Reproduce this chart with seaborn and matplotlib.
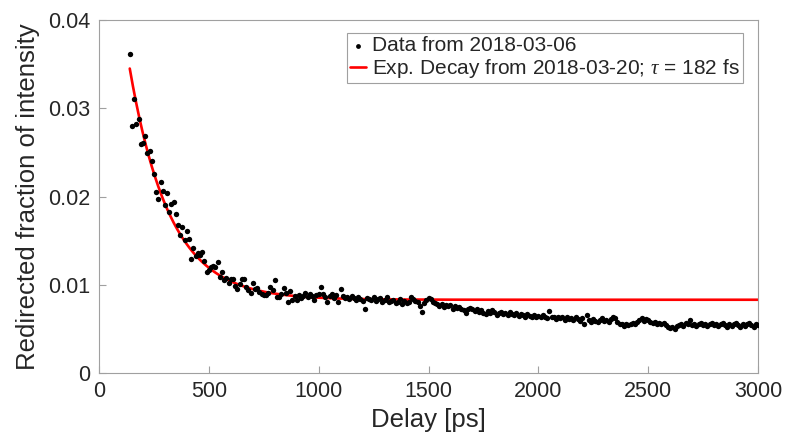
import numpy as np
import pandas as pd
import matplotlib
matplotlib.use("Agg")
import matplotlib.pyplot as plt
import seaborn as sns

# ---- data ----
delay_ps = np.arange(140, 3001, 10)
fraction = [
    0.0362, 0.0280, 0.0310, 0.0282, 0.0288, 0.0259, 0.0261, 0.0269, 0.0249, 0.0251,
    0.0240, 0.0225, 0.0205, 0.0197, 0.0216, 0.0206, 0.0190, 0.0204, 0.0182, 0.0192,
    0.0194, 0.0180, 0.0168, 0.0156, 0.0165, 0.0151, 0.0161, 0.0152, 0.0129, 0.0142,
    0.0133, 0.0136, 0.0134, 0.0137, 0.0127, 0.0115, 0.0117, 0.0120, 0.0121, 0.0120,
    0.0126, 0.0109, 0.0114, 0.0105, 0.0108, 0.0102, 0.0106, 0.0106, 0.0099, 0.0095,
    0.0101, 0.0107, 0.0106, 0.0097, 0.0094, 0.0091, 0.0102, 0.0095, 0.0096, 0.0092,
    0.0090, 0.0088, 0.0088, 0.0091, 0.0097, 0.0094, 0.0105, 0.0086, 0.0086, 0.0089,
    0.0096, 0.0091, 0.0080, 0.0093, 0.0083, 0.0087, 0.0083, 0.0088, 0.0085, 0.0087,
    0.0091, 0.0086, 0.0089, 0.0087, 0.0083, 0.0088, 0.0090, 0.0098, 0.0089, 0.0086,
    0.0081, 0.0087, 0.0089, 0.0085, 0.0088, 0.0080, 0.0095, 0.0087, 0.0085, 0.0086,
    0.0084, 0.0087, 0.0085, 0.0083, 0.0086, 0.0084, 0.0082, 0.0072, 0.0085, 0.0084,
    0.0083, 0.0086, 0.0082, 0.0084, 0.0085, 0.0081, 0.0083, 0.0086, 0.0080, 0.0082,
    0.0083, 0.0079, 0.0081, 0.0084, 0.0078, 0.0082, 0.0079, 0.0081, 0.0086, 0.0084,
    0.0082, 0.0080, 0.0076, 0.0069, 0.0079, 0.0083, 0.0085, 0.0084, 0.0081, 0.0079,
    0.0078, 0.0076, 0.0078, 0.0075, 0.0077, 0.0076, 0.0077, 0.0073, 0.0076, 0.0074,
    0.0075, 0.0073, 0.0071, 0.0068, 0.0073, 0.0074, 0.0072, 0.0070, 0.0072, 0.0069,
    0.0071, 0.0068, 0.0067, 0.0070, 0.0068, 0.0071, 0.0069, 0.0066, 0.0068, 0.0069,
    0.0067, 0.0068, 0.0066, 0.0069, 0.0067, 0.0066, 0.0068, 0.0065, 0.0067, 0.0066,
    0.0064, 0.0067, 0.0065, 0.0063, 0.0066, 0.0064, 0.0065, 0.0063, 0.0066, 0.0064,
    0.0062, 0.0070, 0.0064, 0.0063, 0.0061, 0.0064, 0.0062, 0.0063, 0.0060, 0.0063,
    0.0061, 0.0062, 0.0060, 0.0063, 0.0061, 0.0059, 0.0062, 0.0056, 0.0066, 0.0060,
    0.0058, 0.0061, 0.0059, 0.0058, 0.0060, 0.0062, 0.0059, 0.0060, 0.0058, 0.0061,
    0.0064, 0.0062, 0.0058, 0.0056, 0.0055, 0.0053, 0.0056, 0.0054, 0.0055, 0.0057,
    0.0055, 0.0058, 0.0060, 0.0062, 0.0059, 0.0061, 0.0060, 0.0058, 0.0057, 0.0058,
    0.0056, 0.0057, 0.0055, 0.0057, 0.0054, 0.0052, 0.0051, 0.0052, 0.0050, 0.0053,
    0.0054, 0.0056, 0.0053, 0.0057, 0.0055, 0.0060, 0.0054, 0.0056, 0.0053, 0.0055,
    0.0057, 0.0054, 0.0056, 0.0053, 0.0055, 0.0057, 0.0054, 0.0056, 0.0053, 0.0055,
    0.0057, 0.0054, 0.0052, 0.0056, 0.0053, 0.0055, 0.0057, 0.0054, 0.0052, 0.0056,
    0.0053, 0.0055, 0.0057, 0.0054, 0.0052, 0.0055, 0.0054,
]

# exponential-decay fit parameters
fit_start_ps = 140
fit_amplitude = 0.0262
fit_tau = 182
fit_offset = 0.0083

x_ticks = [0, 500, 1000, 1500, 2000, 2500, 3000]
y_ticks = [0, 0.01, 0.02, 0.03, 0.04]
y_tick_labels = ["0", "0.01", "0.02", "0.03", "0.04"]

data_label = "Data from 2018-03-06"
fit_label = r"Exp. Decay from 2018-03-20; $\tau$ = 182 fs"

# ---- build frames ----
df = pd.DataFrame({"delay": delay_ps, "fraction": fraction})
fit_x = np.linspace(fit_start_ps, 3000, 600)
fit_df = pd.DataFrame({
    "delay": fit_x,
    "fraction": fit_offset + fit_amplitude * np.exp(-(fit_x - fit_start_ps) / fit_tau),
})

sns.set_style("white")
plt.rcParams["font.family"] = ["Liberation Sans", "DejaVu Sans"]
plt.rcParams["mathtext.fontset"] = "custom"
plt.rcParams["mathtext.it"] = "Liberation Serif:italic"

fig = plt.figure(figsize=(7.85, 4.44), dpi=100)
ax = fig.add_axes([99 / 785, 1 - 373 / 444, (758 - 99) / 785, (373 - 20) / 444])

sns.scatterplot(data=df, x="delay", y="fraction", ax=ax, color="black",
                s=15, linewidth=0, label=data_label, zorder=3)
sns.lineplot(data=fit_df, x="delay", y="fraction", ax=ax, color="#ff0000",
             linewidth=1.9, label=fit_label, zorder=2)

ax.set_xlim(0, 3000)
ax.set_ylim(0, 0.04)
ax.set_xticks(x_ticks)
ax.set_yticks(y_ticks)
ax.set_yticklabels(y_tick_labels)
ax.set_xlabel("Delay [ps]", fontsize=18.5, color="#262626", labelpad=4)
ax.set_ylabel("Redirected fraction of intensity", fontsize=18.5, color="#262626", labelpad=6)

spine_col = "#a0a0a0"
for sp in ax.spines.values():
    sp.set_visible(True)
    sp.set_color(spine_col)
    sp.set_linewidth(0.8)
ax.tick_params(axis="both", direction="in", length=5, width=0.8, color=spine_col,
               labelsize=15.5, labelcolor="#262626", top=False, right=False, pad=6)
ax.tick_params(axis="both", which="both", bottom=True, left=True)

leg = ax.legend(loc="upper right", bbox_to_anchor=(0.977, 0.963), fontsize=15,
                frameon=True, fancybox=False, framealpha=1, edgecolor="#a0a0a0",
                handlelength=0.75, handletextpad=0.3, borderpad=0.15, labelspacing=0.1,
                borderaxespad=0)
leg.get_frame().set_linewidth(0.8)
for h in leg.legend_handles:
    try:
        h.set_sizes([12])
    except Exception:
        pass

fig.savefig("out.png", dpi=100)
